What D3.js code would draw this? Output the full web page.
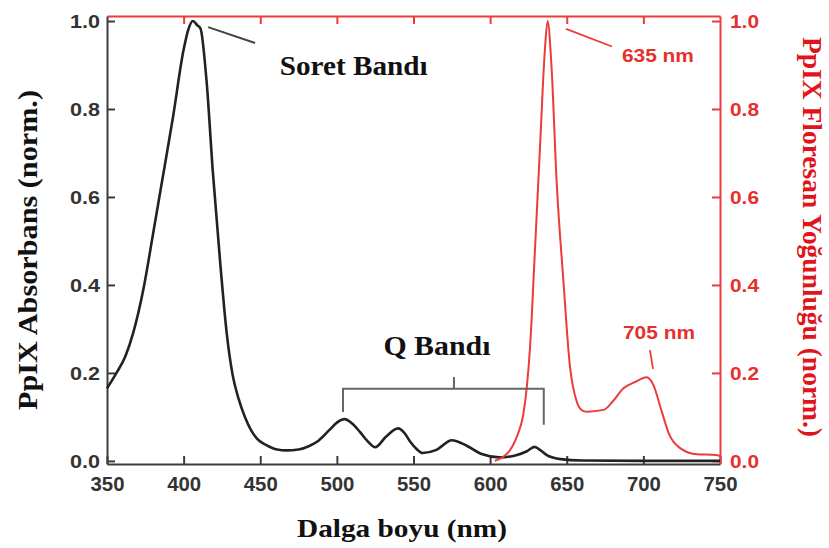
<!DOCTYPE html>
<html>
<head>
<meta charset="utf-8">
<script src="https://cdn.jsdelivr.net/npm/d3@7"></script>
<style>
  html, body { margin: 0; padding: 0; background: #fff; }
  svg { display: block; }
  .tick text { font-family: "Liberation Sans", Arial, sans-serif; font-weight: bold; }
  .title { font-family: "Liberation Serif", "Times New Roman", serif; font-weight: bold; }
</style>
</head>
<body>
<div id="chart"></div>
<script>
// absorbance spectrum (black, left axis)
const absWl  = [350, 356, 362, 367, 374, 380, 385, 393, 400, 403, 406, 409, 411, 415, 419, 424, 428, 432, 436, 440, 444, 448, 454, 461, 467, 475, 482, 488, 495, 500, 505, 510, 515, 520, 525, 532, 540, 544, 548, 552, 556, 565, 575, 585, 595, 606, 617, 624, 629, 633, 637, 646, 660, 700, 750]
const absVal = [0.165, 0.199, 0.238, 0.29, 0.395, 0.515, 0.617, 0.78, 0.935, 0.98, 1.0, 0.99, 0.983, 0.862, 0.66, 0.445, 0.294, 0.195, 0.14, 0.10, 0.07, 0.05, 0.036, 0.026, 0.024, 0.026, 0.034, 0.046, 0.07, 0.087, 0.095, 0.085, 0.066, 0.045, 0.031, 0.055, 0.074, 0.064, 0.043, 0.027, 0.018, 0.025, 0.047, 0.034, 0.015, 0.008, 0.013, 0.022, 0.032, 0.024, 0.013, 0.004, 0.001, 0.0, 0.0]

// fluorescence spectrum (red, right axis)
const flWl  = [603, 608, 612, 615, 618, 621.6, 624, 626, 629.3, 632.5, 635.8, 637.5, 640, 643.4, 647.8, 652, 656.5, 660, 663, 674, 680, 687, 695, 702, 706.5, 712, 717, 724, 735, 745, 750]
const flVal = [0, 0.008, 0.02, 0.036, 0.06, 0.105, 0.17, 0.256, 0.483, 0.71, 0.938, 1.0, 0.90, 0.635, 0.41, 0.218, 0.135, 0.115, 0.112, 0.116, 0.135, 0.165, 0.18, 0.19, 0.173, 0.112, 0.059, 0.029, 0.015, 0.014, 0.012]

const xTicks = [350, 400, 450, 500, 550, 600, 650, 700, 750]
const yTicks = [0.0, 0.2, 0.4, 0.6, 0.8, 1.0]

const width = 829, height = 548
const margin = {top: 16, right: 109, bottom: 84, left: 107}
const black = "#222", axisGray = "#3c3c3c", red = "#ec3b3b", redText = "#e5302c"
const sans = "Liberation Sans, Arial, sans-serif"

const svg = d3.select("#chart").append("svg")
  .attr("width", width).attr("height", height)

svg.append("rect").attr("width", width).attr("height", height).attr("fill", "#fff")

const x = d3.scaleLinear().domain([350, 750]).range([margin.left, width - margin.right])
const yAbs = d3.scaleLinear().domain([-0.007, 1.0114]).range([height - margin.bottom, margin.top])
const yFl = d3.scaleLinear().domain([-0.007, 1.0114]).range([height - margin.bottom, margin.top])

// axes, ticks pointing inward
const xAxis = svg.append("g")
  .attr("transform", `translate(0,${height - margin.bottom})`)
  .call(d3.axisBottom(x).tickValues(xTicks).tickSizeInner(-8).tickSizeOuter(0).tickPadding(13))
xAxis.select(".domain").attr("stroke", axisGray).attr("stroke-width", 2)
xAxis.selectAll(".tick line").attr("stroke", axisGray).attr("stroke-width", 2)
xAxis.selectAll(".tick text").attr("fill", "#333").attr("font-size", 20)
  .attr("textLength", 34).attr("lengthAdjust", "spacingAndGlyphs")

const xTop = svg.append("g")
  .attr("transform", `translate(0,${margin.top})`)
  .call(d3.axisTop(x).tickValues(xTicks.slice(1, -1)).tickSizeInner(-8).tickSizeOuter(0).tickFormat(""))
xTop.select(".domain").attr("stroke", red).attr("stroke-width", 2)
xTop.selectAll(".tick line").attr("stroke", red).attr("stroke-width", 2)

const yLeft = svg.append("g")
  .attr("transform", `translate(${margin.left},0)`)
  .call(d3.axisLeft(yAbs).tickValues(yTicks).tickFormat(d3.format(".1f")).tickSizeInner(-8).tickSizeOuter(0).tickPadding(7))
yLeft.select(".domain").attr("stroke", axisGray).attr("stroke-width", 2)
yLeft.selectAll(".tick line").attr("stroke", axisGray).attr("stroke-width", 2)
yLeft.selectAll(".tick text").attr("fill", "#333").attr("font-size", 19)
  .attr("textLength", 30).attr("lengthAdjust", "spacingAndGlyphs")

const yRight = svg.append("g")
  .attr("transform", `translate(${width - margin.right},0)`)
  .call(d3.axisRight(yFl).tickValues(yTicks).tickFormat(d3.format(".1f")).tickSizeInner(-8).tickSizeOuter(0).tickPadding(10))
yRight.select(".domain").attr("stroke", red).attr("stroke-width", 2)
yRight.selectAll(".tick line").attr("stroke", red).attr("stroke-width", 2)
yRight.selectAll(".tick text").attr("fill", redText).attr("font-size", 19)
  .attr("textLength", 29).attr("lengthAdjust", "spacingAndGlyphs")

// spectra
const absLine = d3.line()
  .curve(d3.curveMonotoneX)
  .x((d, i) => x(absWl[i]))
  .y(d => yAbs(d))
const flLine = d3.line()
  .curve(d3.curveMonotoneX)
  .x((d, i) => x(flWl[i]))
  .y(d => yFl(d))

svg.append("path").datum(absVal)
  .attr("d", absLine).attr("fill", "none")
  .attr("stroke", black).attr("stroke-width", 2.6).attr("stroke-linejoin", "round")
svg.append("path").datum(flVal)
  .attr("d", flLine).attr("fill", "none")
  .attr("stroke", red).attr("stroke-width", 2).attr("stroke-linejoin", "round")

// annotations
const lead = (x1, y1, x2, y2, color, w) => svg.append("line")
  .attr("x1", x(x1)).attr("y1", yAbs(y1)).attr("x2", x(x2)).attr("y2", yAbs(y2))
  .attr("stroke", color).attr("stroke-width", w)

lead(416, 0.986, 446.6, 0.95, "#444", 2)
lead(649.5, 0.982, 679.5, 0.942, red, 1.8)
lead(704.3, 0.252, 706.3, 0.209, red, 1.8)

const label = (txt, nm, v, cls, size, len, color, font) => {
  const t = svg.append("text")
    .attr("x", x(nm)).attr("y", yAbs(v))
    .attr("text-anchor", "middle").attr("font-size", size).attr("fill", color)
    .attr("textLength", len).attr("lengthAdjust", "spacingAndGlyphs")
    .text(txt)
  if (cls) t.attr("class", cls)
  else t.attr("font-family", font).attr("font-weight", "bold")
  return t
}

label("Soret Bandı", 511, 0.877, "title", 27, 148, "#111")
label("635 nm", 709.5, 0.9075, null, 18.5, 72, redText, sans)
label("705 nm", 710.2, 0.277, null, 18.5, 72, redText, sans)

// Q band bracket
const bracket = d3.path()
bracket.moveTo(x(504), yAbs(0.111))
bracket.lineTo(x(504), yAbs(0.164))
bracket.lineTo(x(635), yAbs(0.164))
bracket.lineTo(x(635), yAbs(0.082))
bracket.moveTo(x(576.4), yAbs(0.164))
bracket.lineTo(x(576.4), yAbs(0.191))
svg.append("path").attr("d", bracket.toString())
  .attr("fill", "none").attr("stroke", "#666").attr("stroke-width", 2)

label("Q Bandı", 565.3, 0.241, "title", 27, 107, "#111")

// axis titles
svg.append("text").attr("class", "title")
  .attr("x", 402).attr("y", 537)
  .attr("text-anchor", "middle").attr("font-size", 26).attr("fill", "#111")
  .attr("textLength", 210).attr("lengthAdjust", "spacingAndGlyphs")
  .text("Dalga boyu (nm)")

svg.append("text").attr("class", "title")
  .attr("transform", `translate(37,250) rotate(-90)`)
  .attr("text-anchor", "middle").attr("font-size", 27).attr("fill", "#111")
  .attr("textLength", 320).attr("lengthAdjust", "spacingAndGlyphs")
  .text("PpIX Absorbans (norm.)")

svg.append("text").attr("class", "title")
  .attr("transform", `translate(803,237) rotate(90)`)
  .attr("text-anchor", "middle").attr("font-size", 27).attr("fill", "#e0141a")
  .attr("textLength", 400).attr("lengthAdjust", "spacingAndGlyphs")
  .text("PpIX Floresan Yoğunluğu (norm.)")
</script>
</body>
</html>
